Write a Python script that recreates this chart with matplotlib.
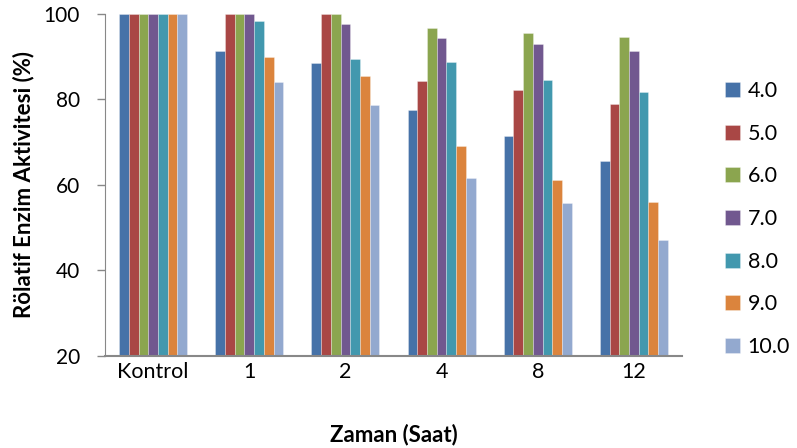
import matplotlib
matplotlib.use("Agg")
import matplotlib.pyplot as plt
import numpy as np

categories = ["Kontrol", "1", "2", "4", "8", "12"]
series_labels = ["4.0", "5.0", "6.0", "7.0", "8.0", "9.0", "10.0"]
ph_4 = [100, 91.3, 88.5, 77.5, 71.5, 65.7]
ph_5 = [100, 100, 100, 84.4, 82.2, 79.0]
ph_6 = [100, 100, 100, 96.7, 95.5, 94.6]
ph_7 = [100, 100, 97.7, 94.3, 93.0, 91.3]
ph_8 = [100, 98.4, 89.5, 88.7, 84.6, 81.8]
ph_9 = [100, 89.9, 85.5, 69.2, 61.2, 56.0]
ph_10 = [100, 84.1, 78.6, 61.6, 55.8, 47.1]
series = [ph_4, ph_5, ph_6, ph_7, ph_8, ph_9, ph_10]
colors = ["#4672A8", "#A94745", "#8BA54F", "#71588F", "#4298AE", "#DB843D", "#93A9CF"]

plt.rcParams['font.family'] = ['Lato', 'DejaVu Sans']

fig = plt.figure(figsize=(7.97, 4.48), dpi=100)
ax = fig.add_axes([105/797, 92/448, (682-105)/797, (356-14)/448])

n = len(series)
x = np.arange(len(categories))
group_w = 0.707
bw = group_w / n
for i, (vals, lab, c) in enumerate(zip(series, series_labels, colors)):
    ax.bar(x - group_w/2 + bw*(i+0.5), vals, width=bw, color=c, label=lab,
           edgecolor=(1, 1, 1, 0.35), linewidth=0.6)

ax.set_ylim(20, 100)
ax.set_xlim(-0.5, len(categories)-0.5)
ax.set_yticks([20, 40, 60, 80, 100])
ax.set_xticks(x)
ax.set_xticklabels(categories)
ax.tick_params(axis='y', labelsize=15, length=6, color="#888888", width=1, pad=12)
ax.tick_params(axis='x', labelsize=15.5, length=0, pad=4)
for s in ["top", "right"]:
    ax.spines[s].set_visible(False)
ax.spines["left"].set_color("#888888")
ax.spines["bottom"].set_color("#888888")
ax.spines["bottom"].set_linewidth(1.5)
ax.set_ylabel("Rölatif Enzim Aktivitesi (%)", fontsize=16, fontweight="bold")
ax.set_xlabel("Zaman (Saat)", fontsize=16, fontweight="bold")
ax.yaxis.label.set_va("center")
ax.xaxis.label.set_va("center")
ax.yaxis.set_label_coords((24-105)/577, 0.5)
ax.xaxis.set_label_coords(0.5, (356-435)/342)

handles, labels = ax.get_legend_handles_labels()
fig.legend(handles, labels, loc="center left", bbox_to_anchor=(725/797, 1-219/448),
           frameon=False, fontsize=15.5, labelspacing=1.05, handlelength=0.7,
           handleheight=0.7, handletextpad=0.35, borderpad=0, borderaxespad=0)

fig.savefig("out.png", dpi=100)
